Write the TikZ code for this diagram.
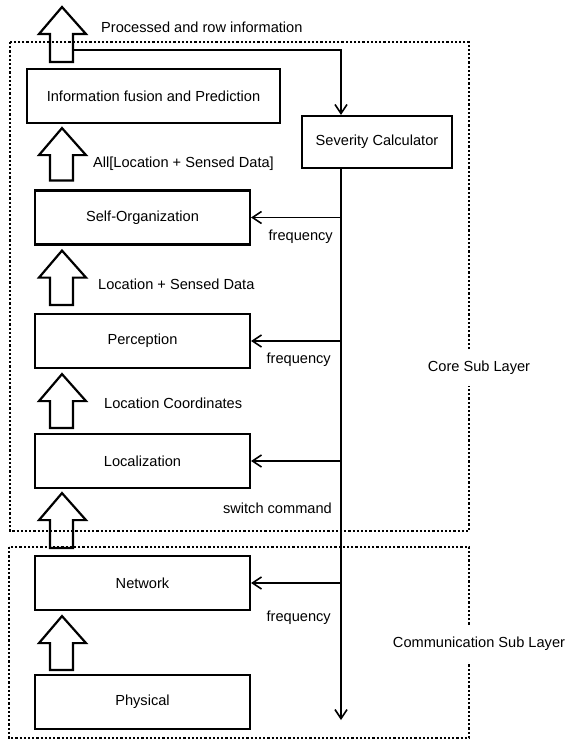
\documentclass[tikz,border=0pt]{standalone}
\usepackage{fontspec}
\setmainfont{Liberation Sans}
\usetikzlibrary{arrows.meta,calc}
\tikzset{
  box/.style={draw, line width=2.2pt, minimum width=215pt, minimum height=54pt, inner sep=0pt, font=\fontsize{14.6}{17}\selectfont},
  lbl/.style={font=\fontsize{14.6}{17}\selectfont, inner sep=1pt},
  layer/.style={line width=2.2pt, dash pattern=on 2.2pt off 2pt},
  hollow/.style={line width=2.2pt, line join=miter},
  sig/.style={line width=1.8pt, -{Straight Barb[length=9pt,width=12pt,line width=1.6pt]}},
}
\newcommand{\hup}[3]{%
  \draw[hollow] let \p1=($(#1.north)+(0,#2)$), \p2=(#3) in
    (50pt,\y1) -- (50pt,\y2-27pt) -- (39pt,\y2-27pt) -- (62pt,\y2) -- (86pt,\y2-27pt) -- (73pt,\y2-27pt) -- (73pt,\y1) -- cycle;}
\begin{document}
\begin{tikzpicture}[x=1pt,y=1pt]
\useasboundingbox (0,0) rectangle (565,-740);
% layers
\draw[layer] (10,-42) rectangle (469,-531);
\draw[layer] (9,-547) rectangle (469,-738);
% boxes
\node[box, minimum width=253pt] (fus) at (153.5,-96) {Information fusion and Prediction};
\node[box, minimum width=150pt, minimum height=52pt] (sev) at (377,-142) {Severity Calculator};
\node[box] (self) at (142.5,-217.5) {Self-Organization};
\node[box] (perc) at (142.5,-341) {Perception};
\node[box] (loc) at (142.5,-461) {Localization};
\node[box] (net) at (142.5,-583) {Network};
\node[box] (phys) at (142.5,-702) {Physical};
% coordinates
\coordinate (tiptop) at (62,-7);
\coordinate (vx) at (341,0);
\coordinate (start) at (73,-50);
\coordinate (vend) at (341,-720);
% hollow arrows
\hup{fus}{6}{tiptop}
\hup{self}{9}{$(fus.south)+(0,-4)$}
\hup{perc}{8}{$(self.south)+(0,-5)$}
\hup{loc}{5}{$(perc.south)+(0,-5)$}
\hup{net}{7}{$(loc.south)+(0,-4)$}
\hup{phys}{4}{$(net.south)+(0,-5)$}
% signal lines
\draw[sig] (start) -- (start -| vx) -- (vx |- sev.north);
\draw[sig] (vx |- sev.south) -- (vend);
\draw[sig] (vx |- self.east) -- (self.east);
\draw[sig] (vx |- perc.east) -- (perc.east);
\draw[sig] (vx |- loc.east) -- (loc.east);
\draw[sig] (vx |- net.east) -- (net.east);
% labels
\node[lbl, anchor=west] (t1) at (100,-27) {Processed and row information};
\node[lbl, anchor=west] (t2) at (92,-164) {All[Location + Sensed Data]};
\node[lbl, anchor=west] (t3) at (97,-284) {Location + Sensed Data};
\node[lbl, anchor=west] (t4) at (103,-403) {Location Coordinates};
\node[lbl, anchor=east] (f1) at (334,-237) {frequency};
\node[lbl, anchor=east] (f2) at (332,-360) {frequency};
\node[lbl, anchor=east] (f3) at (333,-508) {switch command};
\node[lbl, anchor=east] (f4) at (332,-618) {frequency};
\node[lbl, fill=white, inner ysep=11pt] (core) at (479,-368) {Core Sub Layer};
\node[lbl, fill=white, inner ysep=11pt] (comm) at (479,-644) {Communication Sub Layer};
\end{tikzpicture}
\end{document}
